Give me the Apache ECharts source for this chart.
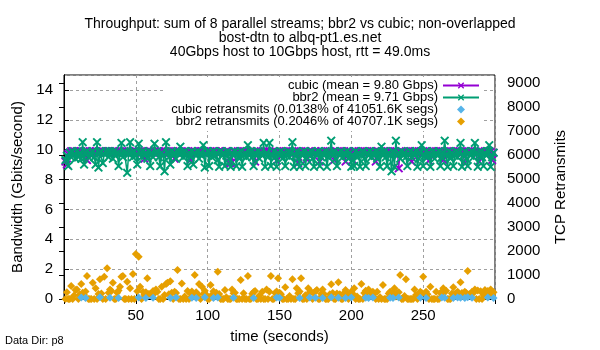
<!DOCTYPE html>
<html><head><meta charset="utf-8">
<script src="https://cdn.jsdelivr.net/npm/echarts@6/dist/echarts.min.js"></script>
<style>html,body{margin:0;padding:0;background:#fff}#c{width:600px;height:350px}</style>
</head><body><div id="c"></div>
<script>
const titleLines = ["Throughput: sum of 8 parallel streams; bbr2 vs cubic; non-overlapped", "bost-dtn to albq-pt1.es.net", "40Gbps host to 10Gbps host, rtt = 49.0ms"];
const seriesNames = ["cubic (mean = 9.80 Gbps)", "bbr2 (mean = 9.71 Gbps)", "cubic retransmits (0.0138% of 41051.6K segs)", "bbr2 retransmits (0.2046% of 40707.1K segs)"];
const xTicks = [50, 100, 150, 200, 250];
const firstSecond = 1;

const cubicGbps = [
9.2,9.0,9.7,9.8,9.9,9.8,9.9,9.85,9.8,9.9,
9.85,9.9,9.8,9.85,9.9,9.3,9.8,9.9,9.85,9.9,
9.8,9.9,9.85,9.8,9.9,9.85,9.9,9.8,9.9,9.85,
9.9,9.8,9.85,9.9,9.8,9.9,9.85,9.8,9.9,9.85,
9.8,9.9,9.85,9.8,9.9,9.85,9.8,9.9,9.85,9.9,
9.8,9.9,9.85,9.8,9.9,9.4,9.8,9.9,9.85,9.9,
9.85,9.8,9.9,9.85,9.8,9.9,9.85,9.9,9.8,9.9,
9.85,9.8,9.9,9.85,9.8,9.9,9.4,9.8,9.9,9.85,
9.8,9.9,9.85,9.8,9.9,9.85,9.8,9.3,9.9,9.85,
9.9,9.8,9.85,9.9,9.8,9.9,9.85,9.8,9.9,9.85,
9.8,9.9,9.85,9.8,9.9,9.85,9.8,9.9,9.85,9.9,
9.8,9.85,9.9,9.8,9.1,9.1,9.15,9.9,9.85,9.8,
9.9,9.85,9.8,9.9,9.85,9.8,9.9,9.85,9.8,9.9,
9.85,9.8,9.2,9.9,9.85,9.8,9.9,9.85,9.8,9.9,
9.85,9.8,9.9,9.85,9.8,9.9,9.85,9.25,9.8,9.9,
9.85,9.8,9.9,9.85,9.8,9.9,9.85,9.8,9.9,9.85,
9.8,9.9,9.1,9.8,9.9,9.85,9.8,9.9,9.35,9.85,
9.8,9.9,9.85,9.8,9.9,9.85,9.8,9.2,9.9,9.85,
9.8,9.9,9.85,9.8,9.9,9.85,9.8,9.3,9.9,9.85,
9.8,9.9,9.85,9.8,9.9,9.2,9.8,9.9,9.85,9.8,
9.3,9.9,9.85,9.8,9.9,9.85,9.8,9.9,9.85,9.8,
9.9,9.85,9.8,9.9,9.85,9.8,9.2,9.9,9.85,9.8,
9.9,9.85,9.8,9.9,9.85,9.8,9.9,9.85,9.8,9.9,
9.85,9.8,8.75,9.8,9.9,9.85,9.8,9.9,9.85,9.8,
9.9,9.2,9.8,9.9,9.85,9.8,9.9,9.85,9.8,9.9,
9.85,9.8,9.9,9.25,9.8,9.9,9.85,9.8,9.9,9.85,
9.8,9.9,9.85,9.3,9.9,9.85,9.8,9.9,9.85,9.8,
9.9,9.85,9.8,9.9,9.85,9.8,9.9,9.85,9.1,9.9,
9.85,9.8,9.9,9.85,9.8,9.9,9.85,9.8,9.2,9.9,
9.85,9.8,9.9,9.85,9.8,9.9,9.85,9.3,9.8
];

const bbr2Gbps = [
9.3,9.6,8.9,9.8,9.5,9.9,9.7,9.4,9.9,9.5,
9.8,9.4,10.5,9.0,9.8,9.9,9.5,9.8,9.6,9.9,
9.5,9.0,10.5,8.8,9.8,9.9,9.1,9.7,9.9,9.8,
9.5,9.9,9.8,9.4,9.9,9.6,9.8,8.9,9.7,10.45,
9.5,9.9,9.8,8.45,9.7,10.5,9.8,9.5,9.9,9.6,
9.0,10.4,9.8,9.5,9.9,9.6,9.8,9.4,9.9,8.9,
9.8,9.5,10.4,9.7,9.9,9.5,8.9,9.8,9.6,8.55,
10.5,9.8,9.5,9.0,9.9,9.6,9.8,9.4,9.9,9.7,
10.2,9.8,9.5,9.9,9.6,8.9,9.8,9.5,9.9,9.0,
9.8,9.6,9.9,9.4,9.8,9.6,10.3,8.8,9.7,9.9,
8.9,9.8,9.5,9.9,9.6,9.8,9.3,8.85,9.9,9.6,
9.8,8.9,9.6,9.9,9.4,8.85,9.8,9.6,9.9,8.9,
9.8,9.4,9.9,8.85,9.6,9.8,9.5,10.3,9.6,9.9,
9.5,8.9,9.8,9.6,9.9,9.4,9.8,9.6,10.45,8.85,
9.8,9.5,10.45,8.9,9.6,9.9,9.5,8.85,9.8,9.6,
9.9,9.4,9.8,8.9,9.6,9.9,9.5,9.8,10.5,8.85,
9.6,9.9,9.4,8.85,9.8,9.6,9.9,8.9,9.5,9.8,
9.6,9.9,9.4,8.85,9.8,9.6,9.9,8.9,9.5,9.8,
9.6,9.9,8.85,9.5,9.8,10.6,9.6,9.9,9.4,8.9,
9.8,9.6,9.9,9.5,9.8,9.6,9.9,9.4,9.8,8.85,
9.6,8.9,9.9,9.5,9.8,8.85,9.6,9.9,9.4,8.9,
9.8,9.6,9.9,9.5,9.8,9.6,9.9,9.4,9.8,8.85,
10.2,9.6,9.9,9.5,8.9,9.8,9.6,8.55,9.9,8.85,
10.6,9.6,9.8,9.4,9.9,9.6,9.8,9.5,8.9,9.7,
9.9,9.5,9.8,9.6,9.9,8.85,9.4,9.8,10.3,8.9,
9.6,9.9,9.5,9.8,8.85,9.6,9.9,9.4,9.8,9.6,
9.9,8.9,9.5,9.8,10.6,9.6,8.85,9.9,9.4,9.8,
8.9,9.6,9.9,9.5,9.8,10.45,8.85,9.6,9.9,9.4,
8.9,9.8,9.6,9.9,9.5,10.45,9.8,8.85,9.6,9.9,
9.5,8.9,9.8,9.6,9.9,10.3,8.85,9.5,9.8
];

const cubicRetrans = [
null,null,null,null,null,null,null,null,null,null,
null,60,null,null,40,null,null,null,null,null,
null,null,null,null,70,null,null,null,null,null,
null,50,null,null,null,null,null,40,null,null,
null,null,null,null,null,null,null,null,null,null,
null,60,null,null,null,null,40,null,null,null,
null,50,null,null,null,null,null,null,null,null,
null,null,null,40,null,null,null,60,null,null,
null,null,null,null,null,null,null,null,50,null,
null,40,null,null,null,null,null,70,null,null,
null,null,null,40,null,null,60,null,null,null,
null,null,null,null,null,null,null,50,null,null,
null,null,null,null,null,null,null,null,null,null,
null,40,null,null,null,null,null,null,null,null,
null,null,null,null,null,null,null,60,null,50,
null,null,null,null,null,null,null,null,null,null,
null,null,null,40,null,null,null,null,null,null,
60,null,null,null,50,null,null,null,null,40,
null,null,null,null,null,70,null,null,null,null,
50,null,null,null,null,40,null,null,null,60,
null,null,null,null,null,null,null,null,null,50,
null,40,null,null,60,null,null,null,null,null,
null,null,null,null,null,null,50,null,40,null,
null,null,60,null,null,null,null,null,null,null,
null,null,null,null,null,null,null,50,null,null,
null,40,null,null,null,null,null,null,null,null,
null,null,60,null,50,null,null,null,null,null,
40,null,null,60,null,50,null,null,40,null,
70,null,null,50,null,null,null,null,null,null,
null,null,null,null,60,null,null,null,40
];

const bbr2Retrans = [
0,280,0,0,540,0,150,375,400,0,
190,625,260,170,310,960,0,0,0,680,
0,450,0,210,820,230,0,930,0,1280,
260,400,330,680,0,0,260,350,510,930,
960,0,0,720,0,445,0,1040,0,1875,
320,1760,510,0,300,190,280,860,210,210,
180,330,240,400,300,0,0,510,0,170,
625,680,200,735,260,0,300,250,1210,0,
0,650,0,100,0,330,0,230,310,180,
1000,280,200,625,0,510,220,340,180,0,
0,580,180,320,200,260,1140,210,0,0,
0,375,70,0,0,0,400,235,260,0,
0,0,790,0,235,0,0,960,0,0,
220,290,330,0,0,150,0,300,0,0,
400,0,300,960,0,0,250,310,860,260,
200,0,0,490,0,0,125,0,820,0,
0,445,240,310,860,0,0,160,0,445,
280,300,0,250,320,375,0,0,220,400,
210,0,0,0,200,610,250,0,0,230,
700,200,0,0,250,375,210,0,230,300,
220,445,0,100,0,0,625,0,250,345,
220,400,250,200,300,220,0,300,0,70,
0,580,0,0,0,230,300,235,260,445,
100,250,280,1000,0,0,125,820,0,0,
0,0,0,400,170,0,220,300,250,930,
230,300,200,0,510,0,0,0,300,0,
0,250,300,445,280,345,0,0,0,230,
490,200,250,300,230,700,250,220,300,250,
1170,200,220,300,250,400,0,350,0,320,
0,170,380,200,330,235,400,170,280
];

const toPairs = arr => arr.map((v, i) => [firstSecond + i, v]);
const FONT = 'Liberation Sans, Arial, sans-serif';
const crossPath = 'path://M0,1.5L1.5,0L5,3.5L8.5,0L10,1.5L6.5,5L10,8.5L8.5,10L5,6.5L1.5,10L0,8.5L3.5,5Z';
const diamondPath = 'path://M5,0L10,5L5,10L0,5Z';
const colors = ['#9400D3', '#009E73', '#56B4E9', '#E69F00'];

const chart = echarts.init(document.getElementById('c'), null, {renderer: 'canvas'});
chart.setOption({
  animation: false,
  backgroundColor: '#fff',
  textStyle: {fontFamily: FONT},
  title: {
    text: titleLines.join('\n'),
    left: 'center', top: 12,
    textStyle: {fontFamily: FONT, fontSize: 14, fontWeight: 'normal', color: '#000', lineHeight: 14}
  },
  graphic: [{type: 'text', left: 5, top: 335, style: {text: 'Data Dir: p8', font: '11px ' + FONT, fill: '#000'}}],
  grid: {left: 64, right: 105, top: 75, bottom: 51, show: true, borderColor: '#000', borderWidth: 1, backgroundColor: 'transparent'},
  legend: {
    orient: 'vertical', align: 'right', right: 116, top: 77,
    itemWidth: 36, itemHeight: 8, itemGap: -1, symbolKeepAspect: true,
    backgroundColor: '#fff', padding: [2, 4, 3, 6],
    textStyle: {fontFamily: FONT, fontSize: 13, color: '#000', lineHeight: 11},
    data: [
      {name: seriesNames[0], lineStyle: {width: 2}},
      {name: seriesNames[1], lineStyle: {width: 2}},
      {name: seriesNames[2], icon: diamondPath},
      {name: seriesNames[3], icon: diamondPath}
    ]
  },
  xAxis: [{
    type: 'value', min: 0, max: 300, interval: 50,
    name: 'time (seconds)', nameLocation: 'middle', nameGap: 30,
    nameTextStyle: {fontFamily: FONT, fontSize: 15, color: '#000'},
    axisLine: {show: true, lineStyle: {color: '#000'}},
    axisTick: {show: true, inside: true, length: 5, lineStyle: {color: '#000'}},
    axisLabel: {showMinLabel: false, showMaxLabel: false, fontSize: 15, color: '#000', margin: 9,
      formatter: v => xTicks.includes(v) ? String(v) : ''},
    splitLine: {show: true, lineStyle: {color: '#a0a0a0', type: [3, 3], width: 1}}
  }, {
    type: 'value', min: 0, max: 300, interval: 50, position: 'top',
    axisLine: {show: false}, axisTick: {show: true, inside: true, length: 5, lineStyle: {color: '#000'}},
    axisLabel: {show: false}, splitLine: {show: false}
  }],
  yAxis: [{
    type: 'value', min: 0, max: 15, interval: 2,
    name: 'Bandwidth (Gbits/second)', nameLocation: 'middle', nameGap: 38,
    nameTextStyle: {fontFamily: FONT, fontSize: 15, color: '#000'},
    axisLine: {show: true, lineStyle: {color: '#000'}},
    axisTick: {show: true, inside: true, length: 5, lineStyle: {color: '#000'}},
    axisLabel: {showMaxLabel: false, fontSize: 15, color: '#000', margin: 11},
    splitLine: {show: true, lineStyle: {color: '#a0a0a0', type: [3, 3], width: 1}}
  }, {
    type: 'value', min: 0, max: 9333, interval: 1000, position: 'right',
    name: 'TCP Retransmits', nameLocation: 'middle', nameGap: 58,
    nameTextStyle: {fontFamily: FONT, fontSize: 15, color: '#000'},
    axisLine: {show: true, lineStyle: {color: '#000'}},
    axisTick: {show: true, inside: true, length: 5, lineStyle: {color: '#000'}},
    axisLabel: {showMaxLabel: false, fontSize: 15, color: '#000', margin: 12, formatter: v => String(v)},
    splitLine: {show: false}
  }],
  series: [
    {name: seriesNames[0], type: 'line', data: toPairs(cubicGbps), yAxisIndex: 0,
     symbol: crossPath, symbolSize: 9, showAllSymbol: true,
     lineStyle: {color: colors[0], width: 1.2}, itemStyle: {color: colors[0]}, z: 2},
    {name: seriesNames[1], type: 'line', data: toPairs(bbr2Gbps), yAxisIndex: 0,
     symbol: crossPath, symbolSize: 9, showAllSymbol: true,
     lineStyle: {color: colors[1], width: 1.5}, itemStyle: {color: colors[1]}, z: 3},
    {name: seriesNames[2], type: 'scatter', data: toPairs(cubicRetrans), yAxisIndex: 1,
     symbol: 'diamond', symbolSize: 8, itemStyle: {color: colors[2], opacity: 1}, z: 6},
    {name: seriesNames[3], type: 'scatter', data: toPairs(bbr2Retrans), yAxisIndex: 1,
     symbol: 'diamond', symbolSize: 8, itemStyle: {color: colors[3], opacity: 1}, z: 5}
  ]
});
</script>
</body></html>
